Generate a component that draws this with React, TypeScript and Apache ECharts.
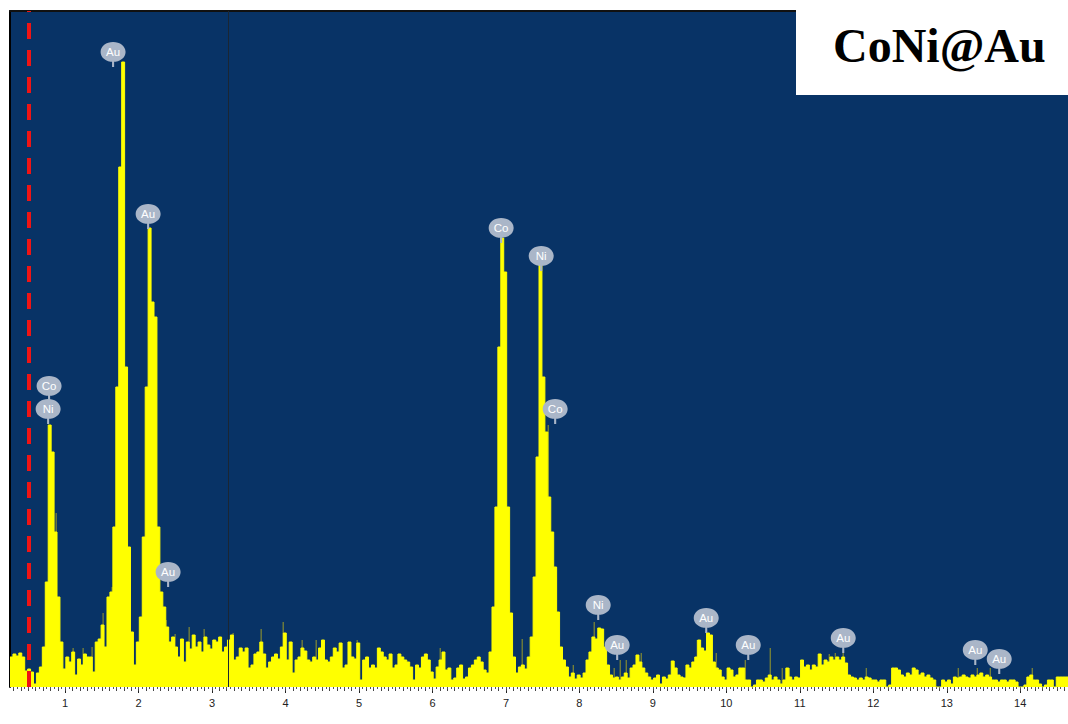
import React, { useEffect, useRef } from "react";
import * as echarts from "echarts";

// Spectrum channels (keV calibration) and counts
const channelStart = 0.25;
const channelWidth = 0.04;
const counts = [
  30, 33, 31, 34, 30, 16, 18, 15, 3, 14, 20, 40, 105, 262, 235, 155, 90, 45, 18, 30, 25, 35, 12, 28, 22,
  33, 30, 30, 15, 45, 48, 62, 40, 90, 95, 160, 300, 520, 625, 320, 140, 55, 22, 45, 70, 150, 300, 459, 385, 370,
  160, 95, 80, 60, 45, 50, 40, 30, 48, 25, 45, 38, 52, 40, 45, 35, 50, 42, 38, 47, 45, 50, 35, 40, 47,
  52, 27, 30, 39, 35, 39, 19, 22, 33, 35, 45, 33, 19, 25, 30, 33, 28, 40, 54, 27, 45, 14, 27, 30, 39,
  36, 27, 25, 30, 27, 39, 47, 27, 25, 30, 39, 35, 44, 19, 22, 45, 30, 28, 44, 7, 27, 30, 19, 22, 19,
  39, 35, 30, 27, 33, 19, 22, 33, 30, 27, 25, 20, 7, 22, 19, 30, 33, 27, 15, 8, 20, 27, 35, 17, 19,
  7, 9, 19, 22, 8, 10, 19, 22, 27, 30, 25, 17, 14, 35, 80, 180, 340, 449, 415, 180, 74, 30, 14, 20, 22,
  18, 30, 50, 110, 230, 422, 310, 255, 190, 155, 120, 75, 40, 27, 20, 10, 14, 8, 12, 9, 14, 27, 35, 50, 48,
  59, 58, 40, 22, 12, 9, 10, 7, 10, 14, 9, 19, 22, 32, 25, 19, 14, 10, 7, 9, 12, 3, 10, 8, 12,
  26, 19, 12, 10, 9, 22, 19, 25, 30, 47, 39, 36, 54, 52, 25, 19, 17, 10, 7, 19, 17, 10, 12, 19, 19,
  7, 7, 0, 2, 7, 7, 5, 9, 12, 7, 10, 7, 3, 7, 19, 10, 7, 10, 9, 27, 20, 22, 17, 22, 20,
  33, 22, 27, 25, 30, 27, 30, 27, 30, 24, 12, 10, 9, 7, 9, 7, 10, 9, 7, 7, 5, 7, 7, 0, 2,
  19, 19, 17, 12, 10, 14, 12, 19, 17, 12, 14, 10, 12, 9, 7, 0, 0, 7, 5, 7, 3, 10, 9, 10, 12,
  10, 9, 12, 10, 12, 14, 10, 12, 10, 7, 7, 5, 7, 7, 5, 7, 7, 5, 0, 0, 2, 10, 12, 7, 7,
  3, 0, 2, 7, 7, 0, 10, 10, 10, 10,
];

// Thin single-channel spikes (olive)
const spikeEnergies = [
  0.878, 1.109, 1.245, 1.367, 1.517, 1.64, 2.375, 2.497, 2.688, 2.892, 3.287, 3.668, 3.968, 4.226,
  4.417, 4.975, 6.105, 6.622, 7.221, 7.575, 7.684, 7.916, 8.201, 8.473, 8.555, 8.637, 8.841, 9.603,
  9.862, 10.257, 10.597, 10.76, 10.856, 11.4, 11.482, 11.59, 11.904, 12.258, 13.156, 13.415, 13.592, 14.163,
];
const spikeCounts = [
  174, 39, 39, 40, 74, 100, 67, 53, 60, 58, 54, 58, 65, 47,
  47, 47, 39, 30, 48, 262, 110, 22, 65, 19, 27, 27, 34, 47,
  34, 27, 39, 19, 19, 33, 34, 34, 19, 12, 19, 19, 19, 19,
];

// Element identification markers
const peakLabels = ["Co", "Ni", "Au", "Au", "Au", "Co", "Ni", "Co", "Ni", "Au", "Au", "Au", "Au", "Au", "Au"];
const peakEnergies = [0.782, 0.769, 1.653, 2.13, 2.402, 6.935, 7.48, 7.67, 8.256, 8.514, 9.726, 10.298, 11.591, 13.388, 13.714];
const peakCounts = [286, 263, 620, 458, 100, 444, 416, 263, 67, 27, 54, 27, 34, 22, 13];

const majorTicks = [1, 2, 3, 4, 5, 6, 7, 8, 9, 10, 11, 12, 13, 14];
const axisMin = 0.25;
const axisMax = 14.65;
const yMax = 676;
const markerEnergy = 0.496;
const cursorEnergy = 3.22;
const title = "CoNi@Au";

const bubblePath =
  "path://M12 0C18.6 0 24 4 24 9.5C24 15 18.6 19 12 19C5.4 19 0 15 0 9.5C0 4 5.4 0 12 0ZM11 18L13 18L13 24L11 24Z";

export default function App() {
  const ref = useRef<HTMLDivElement>(null);

  useEffect(() => {
    if (!ref.current) return;
    const chart = echarts.init(ref.current, null, { renderer: "svg" });

    const spectrum: number[][] = counts.map((c, i) => [channelStart + i * channelWidth, c]);
    spectrum.push([channelStart + counts.length * channelWidth, counts[counts.length - 1]]);

    const spikes = spikeEnergies.map((e, i) => [e, spikeCounts[i]]);

    const fineTicks: number[] = [];
    for (let k = 6; k <= 293; k++) fineTicks.push(Math.round(k * 5) / 100);
    const midTicks: number[] = [];
    for (let k = 3; k <= 146; k++) midTicks.push(k / 10);

    const baseX = {
      type: "value" as const,
      min: axisMin,
      max: axisMax,
      position: "bottom" as const,
      offset: 0,
      splitLine: { show: false },
      axisLine: { show: false },
      axisLabel: { show: false },
    };

    chart.setOption({
      animation: false,
      backgroundColor: "#ffffff",
      grid: {
        left: 10,
        right: 0,
        top: 11,
        bottom: 37,
        show: true,
        backgroundColor: "#083366",
        borderWidth: 0,
      },
      xAxis: [
        {
          ...baseX,
          axisTick: {
            show: true,
            customValues: majorTicks,
            length: 6,
            lineStyle: { color: "#222", width: 1 },
          },
          axisLabel: {
            show: true,
            customValues: majorTicks,
            margin: 10,
            fontSize: 11,
            color: "#222",
            fontFamily: "'Liberation Sans', Arial, sans-serif",
          },
        },
        {
          ...baseX,
          axisTick: {
            show: true,
            customValues: midTicks,
            length: 4,
            lineStyle: { color: "#444", width: 1 },
          },
        },
        {
          ...baseX,
          axisTick: {
            show: true,
            customValues: fineTicks,
            length: 2,
            lineStyle: { color: "#555", width: 1 },
          },
        },
        {
          ...baseX,
          position: "top",
          axisTick: { show: false },
          axisLine: { show: true, lineStyle: { color: "#111", width: 2 } },
        },
      ],
      yAxis: {
        type: "value",
        min: 0,
        max: yMax,
        splitLine: { show: false },
        axisTick: { show: false },
        axisLabel: { show: false },
        axisLine: { show: true, lineStyle: { color: "#000", width: 2 } },
      },
      series: [
        {
          type: "bar",
          xAxisIndex: 0,
          data: spikes,
          barWidth: 1,
          z: 1,
          itemStyle: { color: "#9c9c28" },
          silent: true,
        },
        {
          type: "line",
          xAxisIndex: 0,
          data: spectrum,
          step: "end",
          symbol: "none",
          z: 2,
          lineStyle: { color: "#ffff00", width: 1 },
          areaStyle: { color: "#ffff00", opacity: 1 },
          markLine: {
            silent: true,
            symbol: ["none", "none"],
            label: { show: false },
            data: [
              { xAxis: markerEnergy, lineStyle: { color: "#f01414", width: 4, type: [16, 11], opacity: 1 } },
              { xAxis: cursorEnergy, lineStyle: { color: "#1a2633", width: 1, type: "solid", opacity: 1 } },
            ],
          },
          markPoint: {
            silent: true,
            symbol: bubblePath,
            symbolSize: [25, 25],
            symbolOffset: [0, "-50%"],
            itemStyle: { color: "#aab6c8" },
            label: {
              show: true,
              position: "inside",
              offset: [0, -2.5],
              color: "#ffffff",
              fontSize: 11.5,
              fontFamily: "'Liberation Sans', Arial, sans-serif",
              formatter: "{b}",
            },
            data: peakLabels.map((name, i) => ({
              name,
              coord: [peakEnergies[i], peakCounts[i]],
            })),
          },
        },
      ],
      graphic: [
        {
          type: "rect",
          right: 0,
          top: 0,
          z: 100,
          shape: { width: 272, height: 95 },
          style: { fill: "#ffffff" },
        },
        {
          type: "text",
          left: 833,
          top: 21,
          z: 101,
          style: {
            text: title,
            font: "bold 48px 'Liberation Serif', 'Times New Roman', serif",
            fill: "#000000",
          },
        },
      ],
    });

    return () => chart.dispose();
  }, []);

  return (
    <div
      ref={ref}
      style={{ position: "absolute", left: 0, top: 0, width: 1068, height: 724 }}
    />
  );
}
